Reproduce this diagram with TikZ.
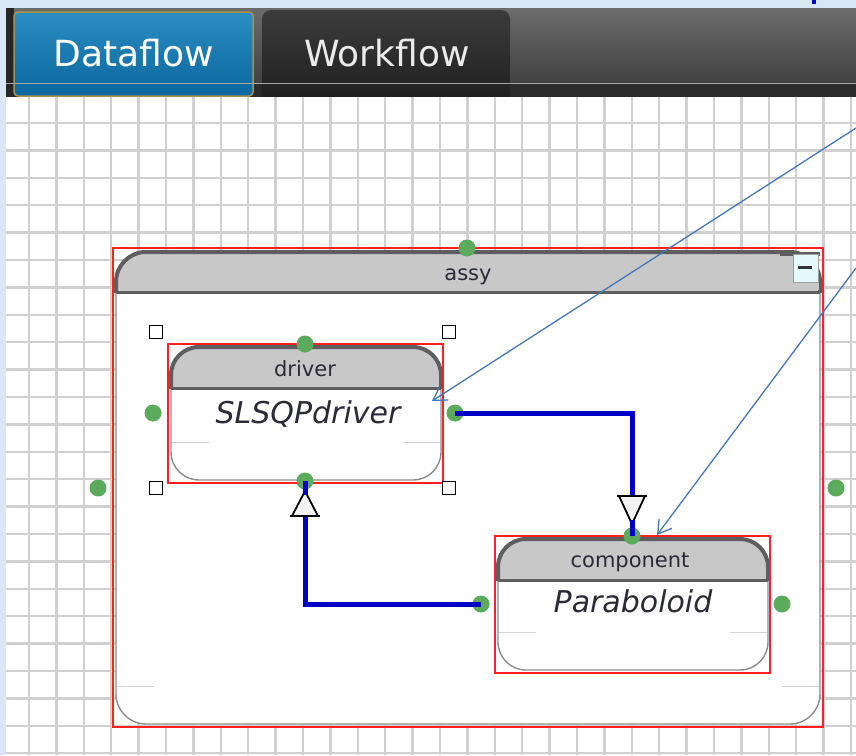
\documentclass[tikz,border=0pt]{standalone}
\usepackage{fontspec}
\setmainfont{DejaVu Sans}
\usetikzlibrary{arrows.meta,calc}
\definecolor{bgblue}{HTML}{D8E6F6}
\definecolor{tbtop}{HTML}{6C6C6C}
\definecolor{tbbot}{HTML}{3A3A3A}
\definecolor{tbdark}{HTML}{2C2C2C}
\definecolor{tabbluetop}{HTML}{2A8DC2}
\definecolor{tabbluebot}{HTML}{0B679D}
\definecolor{tabgold}{HTML}{A8924E}
\definecolor{wftop}{HTML}{3C3C3C}
\definecolor{wfbot}{HTML}{1E1E1E}
\definecolor{gridgray}{HTML}{D0D0D0}
\definecolor{hdrgray}{HTML}{C8C8C8}
\definecolor{rimdark}{HTML}{5E5E5E}
\definecolor{rimlight}{HTML}{8C8C8C}
\definecolor{faintgray}{HTML}{D4D4D4}
\definecolor{selred}{HTML}{FF2020}
\definecolor{portgreen}{HTML}{5CAA5C}
\definecolor{flowblue}{HTML}{0000C4}
\definecolor{noteblue}{HTML}{4478BA}
\definecolor{labelink}{HTML}{2B2B38}
\definecolor{btncyan}{HTML}{E4FAFA}
\newcommand\uibox[6]{%
  \fill[white, rounded corners=#6] (#1,#2) rectangle (#3,#4);
  \begin{scope}
    \clip (#1-4,#2-4) rectangle (#3+4,#5);
    \fill[hdrgray, rounded corners=#6] (#1,#2) rectangle (#3,#4);
  \end{scope}
  \draw[thinrim, rounded corners=#6] (#1,#2) rectangle (#3,#4);
  \begin{scope}
    \clip (#1-6,#2-6) rectangle (#3+6,#5);
    \draw[thickrim, rounded corners=#6] (#1,#2) rectangle (#3,#4);
  \end{scope}
  \draw[seprim] (#1,#5) -- (#3,#5);
  \draw[faint] (#1+1,#4-38) -- (#1+38,#4-38);
  \draw[faint] (#3-38,#4-38) -- (#3-1,#4-38);
}
\begin{document}
\begin{tikzpicture}[x=1pt,y=-1pt,
  gridline/.style={draw=gridgray, line width=2.4pt},
  thinrim/.style={draw=rimlight, line width=1.4pt},
  thickrim/.style={draw=rimdark, line width=4pt},
  seprim/.style={draw=rimdark, line width=3pt},
  faint/.style={draw=faintgray, line width=1pt},
  selbox/.style={draw=selred, line width=1.8pt},
  port/.style={circle, fill=portgreen, inner sep=0pt, minimum size=17pt},
  handle/.style={rectangle, draw=black, fill=white, line width=1.5pt, inner sep=0pt, minimum size=13pt},
  flow/.style={draw=flowblue, line width=5pt},
  tri/.style={draw=black, fill=white!95!black, line width=1.8pt, line join=miter},
  note/.style={draw=noteblue, line width=1.3pt, -{Straight Barb[length=13pt,width=16pt,line width=1.3pt]}},
  lbl/.style={font=\fontsize{21}{24}\selectfont, text=labelink, inner sep=0pt},
  bigname/.style={font=\fontsize{30}{34}\selectfont\itshape, text=labelink, inner sep=0pt},
  tabtext/.style={font=\fontsize{36}{40}\selectfont, text=white, inner sep=0pt}]
\useasboundingbox (0,0) rectangle (856,755);
% backdrop
\fill[bgblue] (0,0) rectangle (856,755);
\fill[blue!80!black] (812,0) rectangle (816,4);
% toolbar
\shade[top color=tbtop, bottom color=tbbot] (6,8) rectangle (856,97);
\fill[tbdark] (6,84) rectangle (856,97);
\fill[black!85] (6,8) rectangle (14,97);
% tabs
\shade[top color=wftop, bottom color=wfbot, rounded corners=9pt] (262,104) rectangle (510,10);
\shade[top color=tabbluetop, bottom color=tabbluebot, rounded corners=4pt] (14,96) rectangle (253,12);
\draw[tabgold, line width=1.5pt, rounded corners=4pt] (14,96) rectangle (253,12);
\draw[gray!70, line width=0.8pt] (6,83) -- (856,83);
\node[tabtext, anchor=base] (tdata) at (134,66) {Dataflow};
\node[tabtext, anchor=base, text=white!92!black] (twork) at (387,66) {Workflow};
% canvas
\fill[white] (6,97) rectangle (856,755);
\foreach \k in {0,...,30} \draw[gridline] ({29+27.4*\k},97) -- ({29+27.4*\k},755);
\foreach \k in {0,...,23} \draw[gridline] (6,{123+27.4*\k}) -- (856,{123+27.4*\k});
% assembly
\uibox{116}{252}{820}{724}{292}{30pt}
\fill[hdrgray] (790,256) rectangle (819,290);
\draw[rimdark, line width=4pt] (780,254) -- (820,254);
\draw[rimdark!60, line width=1pt, fill=btncyan] (793,254) rectangle (818,282);
\draw[black!80, line width=3pt] (798,267) -- (812,267);
\draw[selbox] (113,248) rectangle (823,727);
\node[lbl, anchor=base] (tassy) at (468,280) {assy};
% driver
\uibox{171}{347}{441}{480}{388}{28pt}
\draw[selbox] (168,344) rectangle (443,483);
\node[lbl, anchor=base] (tdrv) at (305,376) {driver};
\node[bigname, anchor=base] (tslsqp) at (308,423) {SLSQPdriver};
% component
\uibox{498}{539}{768}{670}{580}{28pt}
\draw[selbox] (495,536) rectangle (770,673);
\node[lbl, anchor=base] (tcomp) at (630,567) {component};
\node[bigname, anchor=base] (tpara) at (633,612) {Paraboloid};
% ports
\node[port] (atop) at (467,248) {};
\node[port] (aleft) at (98,488) {};
\node[port] (aright) at (836,488) {};
\node[port] (dtop) at (305,344) {};
\node[port] (dleft) at (153,413) {};
\node[port] (dright) at (455,413) {};
\node[port] (dbot) at (305,481) {};
\node[port] (ctop) at (632,536) {};
\node[port] (cleft) at (481,604) {};
\node[port] (cright) at (782,604) {};
% selection handles
\node[handle] (h1) at (156,332) {};
\node[handle] (h2) at (449,332) {};
\node[handle] (h3) at (156,488) {};
\node[handle] (h4) at (449,488) {};
% data connections
\draw[flow] (dright.center) -| (ctop.center);
\draw[flow] (cleft.center) -| (dbot.center);
\draw[tri] ($(ctop)+(-13,-40)$) -- ($(ctop)+(13,-40)$) -- ($(ctop)+(0,-12)$) -- cycle;
\draw[black, line width=2pt] ($(ctop)+(-15,-40)$) -- ($(ctop)+(15,-40)$);
\draw[flowblue, line width=5pt] ($(ctop)+(0,-16)$) -- (ctop.center);
\draw[tri] ($(dbot)+(-13,35)$) -- ($(dbot)+(13,35)$) -- ($(dbot)+(0,10)$) -- cycle;
\draw[black, line width=2pt] ($(dbot)+(-15,35)$) -- ($(dbot)+(15,35)$);
\draw[flowblue, line width=5pt] ($(dbot)+(0,14)$) -- (dbot.center);
% annotation arrows
\coordinate (n1s) at (856,128);
\coordinate (n1e) at (432,401);
\coordinate (n2s) at (856,268);
\coordinate (n2e) at (657,535);
\draw[note] (n1s) -- (n1e);
\draw[note] (n2s) -- (n2e);
\end{tikzpicture}
\end{document}
